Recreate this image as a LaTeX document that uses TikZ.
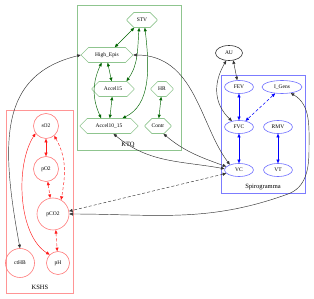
\documentclass[tikz,border=0pt]{standalone}
\usepackage{fontspec}
\setmainfont{Liberation Serif}
\usetikzlibrary{arrows.meta, shapes.misc, shapes.geometric}

\definecolor{ktqline}{HTML}{8FC58F}
\definecolor{ktqedge}{HTML}{006400}
\definecolor{spiline}{HTML}{7070FF}
\definecolor{spibox}{HTML}{7C7CFF}
\definecolor{kshsline}{HTML}{FF7A7A}
\definecolor{kshsedge}{HTML}{FF1A1A}

\begin{document}
\begin{tikzpicture}[
  x=1pt, y=-1pt,
  font=\fontsize{5.5}{6}\selectfont,
  cluster/.style={
    line width=0.7pt
  },
  clusterlabel/.style={
    font=\fontsize{6.5}{7}\selectfont
  },
  octo/.style={
    chamfered rectangle,
    chamfered rectangle xsep=6pt,
    chamfered rectangle ysep=4pt,
    draw=ktqline,
    line width=0.6pt,
    minimum height=15pt,
    inner sep=1pt
  },
  oval/.style={
    ellipse,
    draw=spiline,
    line width=0.6pt,
    minimum width=29pt,
    minimum height=13pt,
    inner sep=0pt
  },
  ball/.style={
    circle,
    draw=kshsline,
    line width=0.6pt,
    inner sep=0pt
  },
  link/.style={
    {Triangle[length=3.5pt,width=3pt]}-{Triangle[length=3.5pt,width=3pt]},
    line width=0.45pt
  },
  ktqlink/.style={link, draw=ktqedge},
  spilink/.style={link, draw=blue},
  kshslink/.style={link, draw=kshsedge},
  blacklink/.style={link, draw=black!80},
  dashy/.style={dash pattern=on 3pt off 2pt}
]
\useasboundingbox (0,0) rectangle (314,299);

% Clusters
\draw[cluster, ktqline] (77,5) rectangle (181,150);
\node[clusterlabel] (ktqlab) at (128,145) {KTQ};

\draw[cluster, spibox] (221,75) rectangle (305,193);
\node[clusterlabel] (spilab) at (263,187) {Spirogramma};

\draw[cluster, kshsline!80] (6,110) rectangle (73,293);
\node[clusterlabel] (kshslab) at (40,287) {KSHS};

% KTQ nodes
\node[octo, minimum width=30pt] (STV) at (142,20) {STV};
\node[octo, minimum width=52pt] (HighEpis) at (107,55) {High\_Epis};
\node[octo, minimum width=42pt] (Accel15) at (113,89) {Accel15};
\node[octo, minimum width=22pt, chamfered rectangle xsep=4pt] (HR) at (162,89) {HR};
\node[octo, minimum width=58pt] (Accel1015) at (109,126) {Accel10\_15};
\node[octo, minimum width=26pt, chamfered rectangle xsep=5pt] (Contr) at (158,126) {Contr};

% Spirogramma nodes
\node[oval, draw=black!80, minimum width=27pt, minimum height=15pt] (AU) at (229,53) {AU};
\node[oval] (FEV) at (239,87) {FEV};
\node[oval, minimum width=40pt] (IGens) at (282,87) {I\_Gens};
\node[oval] (FVC) at (239,127) {FVC};
\node[oval] (RMV) at (278,127) {RMV};
\node[oval] (VC) at (239,170) {VC};
\node[oval] (VT) at (278,170) {VT};

% KSHS nodes
\node[ball, minimum size=25pt] (sO2) at (46,126) {sO2};
\node[ball, minimum size=25pt] (pO2) at (46,169) {pO2};
\node[ball, minimum size=32pt] (pCO2) at (53,214) {pCO2};
\node[ball, minimum size=29pt] (ctHB) at (20,263) {ctHB};
\node[ball, minimum size=23pt] (pH) at (58,263) {pH};

% KTQ edges
\draw[ktqlink] (STV) -- (HighEpis);
\draw[ktqlink] (STV.-110) to[out=-95,in=55] (Accel15.30);
\draw[ktqlink] (STV.-70) .. controls (150,70) and (150,105) .. (Accel1015.30);
\draw[ktqlink] (HighEpis.-85) -- (Accel15.100);
\draw[ktqlink] (HighEpis.-125) to[out=-115,in=115] (Accel1015.135);
\draw[ktqlink] (Accel15) -- (Accel1015);
\draw[ktqlink] (HR) -- (Contr);

% Spirogramma edges
\draw[spilink] (FEV) -- (FVC);
\draw[spilink] (FVC) -- (VC);
\draw[spilink] (RMV) -- (VT);
\draw[spilink, dashy] (IGens) -- (FVC);

% KSHS edges
\draw[kshslink] (sO2) -- (pO2);
\draw[kshslink, dashy] (pO2) -- (pCO2.100);
\draw[kshslink, dashy] (sO2.-50) to[out=-60,in=80] (pCO2.60);
\draw[kshslink] (sO2.215) .. controls (15,165) and (18,235) .. (pH.135);
\draw[kshslink, dashy] (pCO2.-80) -- (pH);

% Cross edges
\draw[blacklink] (ctHB.north) .. controls (0,140) and (0,75) .. (HighEpis.west);
\draw[blacklink] (HighEpis.east) .. controls (195,55) and (200,125) .. (VC.150);
\draw[blacklink] (Accel1015.-60) to[out=-40,in=170] (VC.175);
\draw[blacklink] (Contr.-55) to[out=-40,in=160] (VC.165);
\draw[blacklink] (AU.-60) -- (FEV.105);
\draw[blacklink] (AU.-110) .. controls (212,85) and (215,105) .. (FVC.140);
\draw[blacklink, dashy] (VC.195) -- (pCO2.10);
\draw[blacklink] (IGens.-35) to[out=-30,in=90] (309,150) to[out=-90,in=20] (288,194) to[out=200,in=0] (pCO2.east);

\end{tikzpicture}
\end{document}
